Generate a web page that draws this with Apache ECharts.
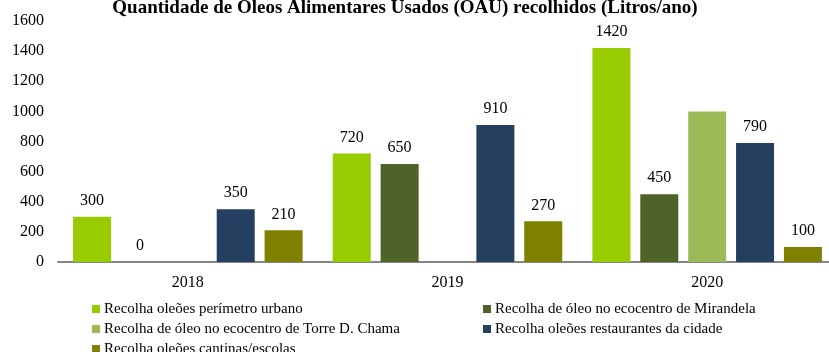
<!DOCTYPE html>
<html>
<head>
<meta charset="utf-8">
<script src="https://cdn.jsdelivr.net/npm/echarts@6/dist/echarts.min.js"></script>
<style>
  html, body { margin: 0; padding: 0; background: #fff; }
  #chart { width: 829px; height: 352px; }
</style>
</head>
<body>
<div id="chart"></div>
<script>
// Anos
const years = ['2018', '2019', '2020'];

// Litros recolhidos por origem (null = sem recolha registada)
const seriesNames = [
  'Recolha oleões perímetro urbano',
  'Recolha de óleo no ecocentro de Mirandela',
  'Recolha de óleo no ecocentro de Torre D. Chama',
  'Recolha oleões restaurantes da cidade',
  'Recolha oleões cantinas/escolas'
];
const perimetroUrbano = [300, 720, 1420];
const ecocentroMirandela = [0, 650, 450];
const ecocentroTorreChama = [null, null, 1000];
const restaurantes = [350, 910, 790];
const cantinasEscolas = [210, 270, 100];

// Valores sem etiqueta visível
const hiddenLabels = [[], [], [2], [], []];

const yTicks = { min: 0, max: 1600, interval: 200 };

const colors = ['#99cc00', '#4f6228', '#9bbb59', '#243f60', '#808000'];
const serif = '"Liberation Serif", "Times New Roman", serif';

const values = [perimetroUrbano, ecocentroMirandela, ecocentroTorreChama, restaurantes, cantinasEscolas];

const series = values.map((arr, i) => ({
  name: seriesNames[i],
  type: 'bar',
  barWidth: 38,
  barGap: '26%',
  itemStyle: { color: colors[i] },
  label: {
    show: true,
    position: 'top',
    distance: 8,
    fontFamily: serif,
    fontSize: 16,
    color: '#000'
  },
  data: arr.map((v, j) => hiddenLabels[i].includes(j)
    ? { value: v, label: { show: false } }
    : v)
}));

const legendText = { fontFamily: serif, fontSize: 15, color: '#000', lineHeight: 16, padding: [0, 0, 0, -1] };

const chart = echarts.init(document.getElementById('chart'), null, { renderer: 'canvas' });
chart.setOption({
  animation: false,
  backgroundColor: '#fff',
  title: {
    text: 'Quantidade de Óleos Alimentares Usados (OAU) recolhidos (Litros/ano)',
    left: 400,
    textAlign: 'center',
    top: -6,
    textStyle: { fontFamily: serif, fontSize: 19, fontWeight: 'bold', color: '#000' }
  },
  legend: [
    {
      left: 87, top: 296, height: 80, orient: 'vertical', itemGap: 4,
      itemWidth: 8, itemHeight: 8, icon: 'rect',
      data: [seriesNames[0], seriesNames[2], seriesNames[4]],
      textStyle: legendText
    },
    {
      left: 478, top: 296, height: 80, orient: 'vertical', itemGap: 4,
      itemWidth: 8, itemHeight: 8, icon: 'rect',
      data: [seriesNames[1], seriesNames[3]],
      textStyle: legendText
    }
  ],
  grid: { left: 58, top: 21, width: 779, height: 241, containLabel: false, outerBoundsMode: 'none' },
  xAxis: {
    type: 'category',
    data: years,
    axisLine: { lineStyle: { color: '#868686', width: 2 } },
    axisTick: { show: false },
    axisLabel: { fontFamily: serif, fontSize: 16, color: '#000', margin: 13 }
  },
  yAxis: {
    type: 'value',
    min: yTicks.min, max: yTicks.max, interval: yTicks.interval,
    axisLine: { show: false },
    axisTick: { show: false },
    splitLine: { show: false },
    axisLabel: { fontFamily: serif, fontSize: 16, color: '#000', margin: 14, formatter: v => String(v) }
  },
  series: series
});
</script>
</body>
</html>
